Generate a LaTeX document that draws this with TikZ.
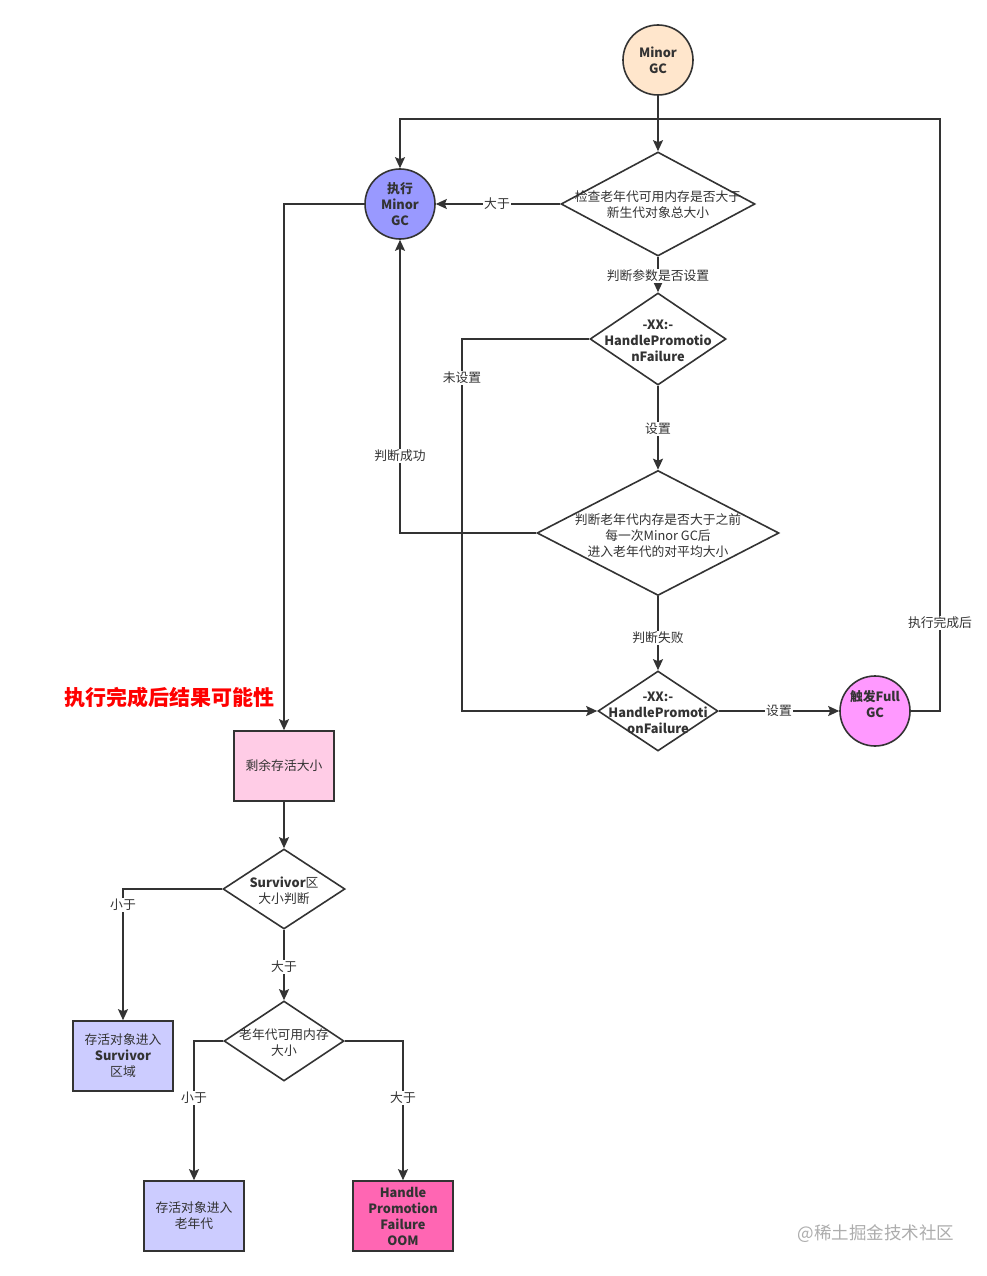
\documentclass[tikz,border=0pt]{standalone}
\usepackage{fontspec}
\setmainfont{Noto Sans CJK SC}
\usetikzlibrary{shapes.geometric,arrows.meta}
\definecolor{ln}{HTML}{333333}
\definecolor{cstart}{HTML}{FFE6CC}
\definecolor{cexec}{HTML}{9999FF}
\definecolor{cfull}{HTML}{FF99FF}
\definecolor{cpink}{HTML}{FFCCE6}
\definecolor{cblue}{HTML}{CCCCFF}
\definecolor{coom}{HTML}{FF66B3}
\begin{document}
\begin{tikzpicture}[x=1pt,y=-1pt,
  base/.style={font=\fontsize{12.8}{16}\selectfont, text=ln, align=center},
  bbase/.style={font=\fontsize{12.8}{16}\selectfont\bfseries, text=ln, align=center},
  circ/.style={circle, draw=ln, line width=1.6pt, minimum size=70pt, inner sep=0pt, bbase},
  dia/.style={diamond, draw=ln, line width=1.6pt, inner sep=0pt, fill=white},
  box/.style={rectangle, draw=ln, line width=1.6pt, minimum width=100pt, minimum height=70pt, inner sep=0pt},
  conn/.style={draw=ln, line width=1.6pt, -{Stealth[length=11pt,width=10pt,inset=2pt]}},
  lbl/.style={fill=white, inner sep=1pt, base}
]
\path[use as bounding box, fill=white] (0,0) rectangle (987,1276);

% nodes
\node[circ, fill=cstart] (s) at (658,60) {Minor\\GC};
\node[circ, fill=cexec] (e) at (400,204) {执行\\Minor\\GC};
\node[circ, fill=cfull] (f) at (875,711) {};
\node[bbase] (ft) at (875,704) {触发Full\\GC};

\node[dia, minimum width=194pt, minimum height=104pt] (d1) at (658,204) {};
\node[base] (d1t) at (658,205) {检查老年代可用内存是否大于\\新生代对象总大小};
\node[dia, minimum width=136pt, minimum height=92pt] (d2) at (658,339) {};
\node[bbase] (d2t) at (658,341) {-XX:-\\HandlePromotio\\nFailure};
\node[dia, minimum width=242pt, minimum height=125pt] (d3) at (658,533) {};
\node[base] (d3t) at (658,536) {判断老年代内存是否大于之前\\每一次Minor GC后\\进入老年代的对平均大小};
\node[dia, minimum width=120pt, minimum height=80pt] (d4) at (658,711) {};
\node[bbase] (d4t) at (658,713) {-XX:-\\HandlePromoti\\onFailure};

\node[box, fill=cpink, base] (r1) at (284,766) {剩余存活大小};
\node[dia, minimum width=122pt, minimum height=80pt] (d5) at (284,889) {};
\node[base] (d5t) at (284,891) {\textbf{Survivor}区\\大小判断};
\node[box, fill=cblue, base] (r2) at (123,1056) {存活对象进入\\\textbf{Survivor}\\区域};
\node[dia, minimum width=120pt, minimum height=80pt] (d6) at (284,1041) {};
\node[base] (d6t) at (284,1043) {老年代可用内存\\大小};
\node[box, fill=cblue, base] (r3) at (194,1216) {存活对象进入\\老年代};
\node[box, fill=coom, bbase] (r4) at (403,1216) {Handle\\Promotion\\Failure\\OOM};

\coordinate (k1) at (462,339);
\coordinate (k2) at (940,119);

% connectors
\draw[conn] (s) -- (d1);
\draw[conn] (d1.west) -- (e.east);
\node[lbl] at (497,204) {大于};
\draw[conn] (d1.south) -- (d2.north);
\node[lbl] at (658,276) {判断参数是否设置};
\draw[conn] (d2.west) -- (k1) |- (d4.west);
\node[lbl] at (462,378) {未设置};
\draw[conn] (d2.south) -- (d3.north);
\node[lbl] at (658,429) {设置};
\draw[conn] (d3.west) -| (e.south);
\node[lbl] at (400,456) {判断成功};
\draw[conn] (d3.south) -- (d4.north);
\node[lbl] at (658,638) {判断失败};
\draw[conn] (d4.east) -- (f.west);
\node[lbl] at (779,711) {设置};
\draw[conn] (f.east) -| (k2) -| (e.north);
\node[lbl] at (940,623) {执行完成后};

\draw[conn] (e.west) -| (r1.north);
\draw[conn] (r1.south) -- (d5.north);
\draw[conn] (d5.west) -| (r2.north);
\node[lbl] at (123,905) {小于};
\draw[conn] (d5.south) -- (d6.north);
\node[lbl] at (284,967) {大于};
\draw[conn] (d6.west) -| (r3.north);
\node[lbl] at (194,1098) {小于};
\draw[conn] (d6.east) -| (r4.north);
\node[lbl] at (403,1098) {大于};

\node[font=\fontsize{21}{24}\selectfont\bfseries, text=red] (title) at (169,697) {执行完成后结果可能性};
\node[font=\fontsize{17.5}{20}\selectfont, text=black!32] (wm) at (876,1234) {@稀土掘金技术社区};
\end{tikzpicture}
\end{document}
